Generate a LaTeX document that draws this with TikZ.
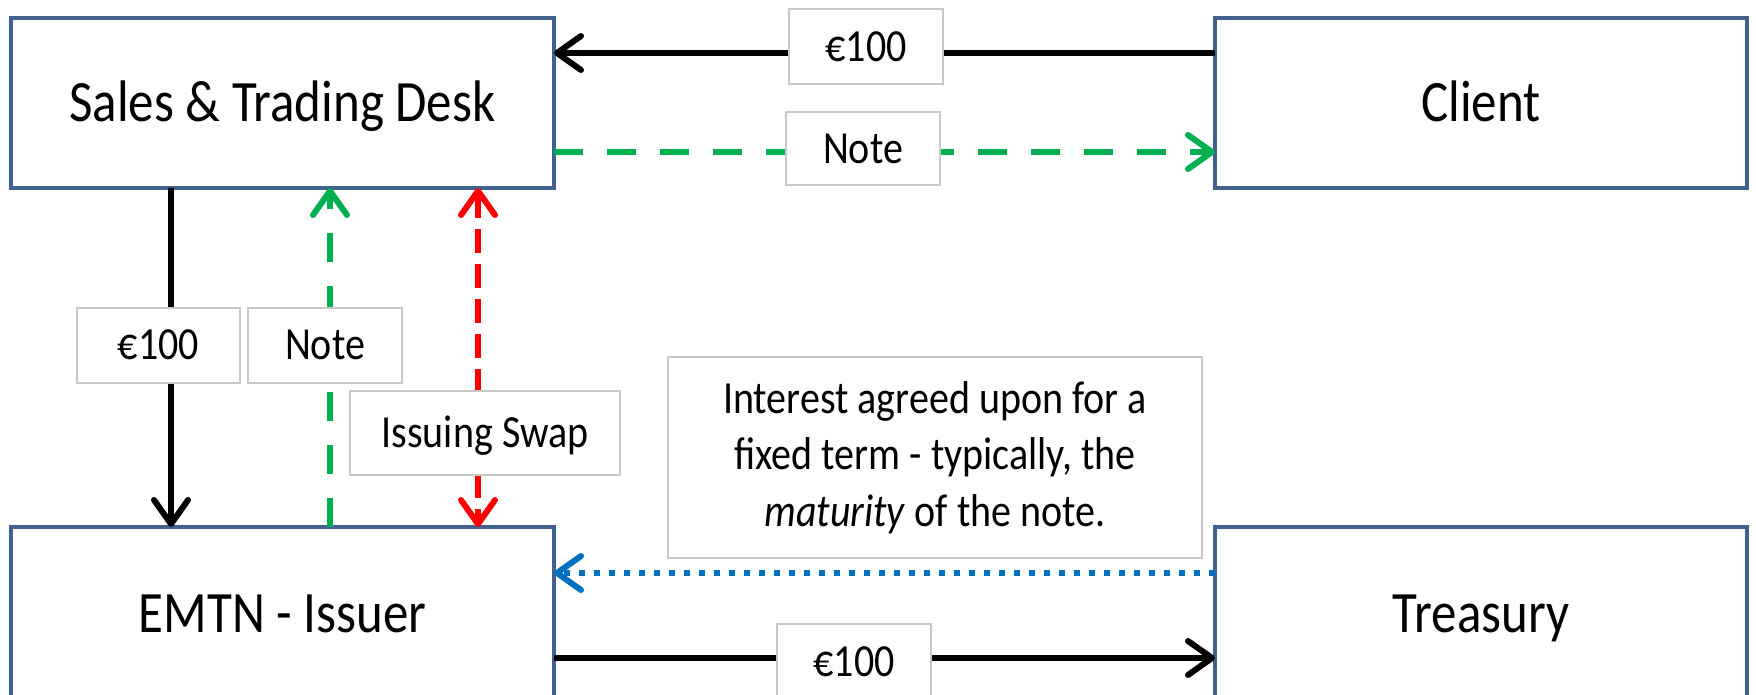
\documentclass[tikz,border=0pt]{standalone}
\usepackage{fontspec}
\setmainfont{Carlito}
\newfontfamily\tallfont[FakeStretch=0.87]{Carlito}
\usetikzlibrary{arrows.meta}
\definecolor{boxblue}{HTML}{41628F}
\definecolor{lblgray}{HTML}{C8C8C8}
\definecolor{ngreen}{HTML}{00B050}
\definecolor{nred}{HTML}{FF0000}
\definecolor{nblue}{HTML}{0070C0}
\begin{document}
\begin{tikzpicture}[x=1pt,y=-1pt,
  party/.style={draw=boxblue, line width=4.5pt, fill=white, rectangle, inner sep=0pt, outer sep=0pt,
    text height=37.7pt, text depth=0pt, font=\tallfont\fontsize{58.6}{70}\selectfont},
  lbl/.style={draw=lblgray, line width=2pt, fill=white, rectangle, inner sep=0pt,
    text height=29.6pt, text depth=0pt, font=\tallfont\fontsize{46}{55}\selectfont},
  barb/.tip={Straight Barb[length=24pt,width=34pt,line cap=round,line join=round]},
  flow/.style={line width=6pt, -barb},
  money/.style={flow, draw=black},
  notefl/.style={flow, draw=ngreen, dash pattern=on 29pt off 24pt},
  swapfl/.style={line width=6pt, barb-barb, draw=nred, dash pattern=on 24pt off 11pt},
  interest/.style={flow, draw=nblue, dash pattern=on 6pt off 9pt}
]
\useasboundingbox (0,0) rectangle (1756,695);
\fill[white] (0,0) rectangle (1756,695);

% parties
\node[party, minimum width=543pt, minimum height=170pt] (sales) at (282.5,103) {Sales \& Trading Desk};
\node[party, minimum width=532pt, minimum height=170pt] (client) at (1481,103) {Client};
\node[party, minimum width=543pt, minimum height=174pt] (emtn) at (282.5,614) {EMTN - Issuer};
\node[party, minimum width=532pt, minimum height=174pt] (treasury) at (1481,614) {Treasury};

% connectors
\draw[money] ([yshift=50pt]client.west) -- ([yshift=50pt]sales.east);
\draw[notefl] ([yshift=-49pt]sales.east) -- ([yshift=-49pt]client.west);
\draw[money] ([xshift=-111.5pt]sales.south) -- ([xshift=-111.5pt]emtn.north);
\draw[notefl] ([xshift=47.5pt]emtn.north) -- ([xshift=47.5pt]sales.south);
\draw[swapfl] ([xshift=195.5pt]sales.south) -- ([xshift=195.5pt]emtn.north);
\draw[interest] ([yshift=41pt]treasury.west) -- ([yshift=41pt]emtn.east);
\draw[money] ([yshift=-44pt]emtn.east) -- ([yshift=-44pt]treasury.west);

% labels
\node[lbl, minimum width=154pt, minimum height=75pt] (l1) at (866,47) {€100};
\node[lbl, minimum width=154pt, minimum height=73pt] (l2) at (863,149) {Note};
\node[lbl, minimum width=163pt, minimum height=75pt] (l3) at (158.5,345) {€100};
\node[lbl, minimum width=154pt, minimum height=75pt] (l4) at (325,345) {Note};
\node[lbl, minimum width=270pt, minimum height=84pt] (l5) at (485,433) {Issuing Swap};
\node[lbl, minimum width=534pt, minimum height=201pt, align=center, text height=, text depth=,
      font=\tallfont\fontsize{46}{56.5}\selectfont] (l6) at (935,457.5)
  {Interest agreed upon for a\\fixed term - typically, the\\\textit{maturity} of the note.};
\node[lbl, minimum width=154pt, minimum height=75pt] (l7) at (854,661.5) {€100};
\end{tikzpicture}
\end{document}
